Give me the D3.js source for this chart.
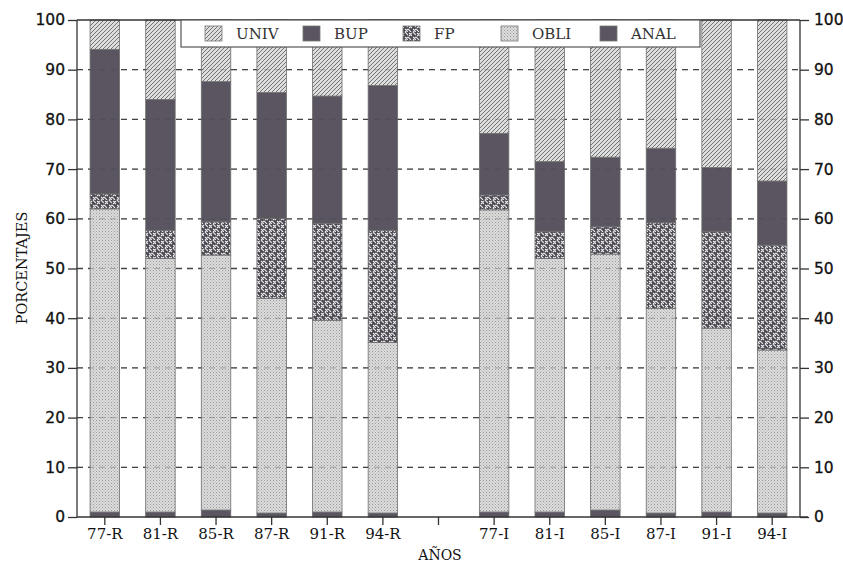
<!DOCTYPE html>
<html><head><meta charset="utf-8">
<script src="https://cdn.jsdelivr.net/npm/d3@7"></script>
<style>body{margin:0;background:#fff}svg{display:block}</style>
</head><body><svg id="c" width="843" height="562"></svg>
<script>
const categories = ["77-R","81-R","85-R","87-R","91-R","94-R","","77-I","81-I","85-I","87-I","91-I","94-I"];
const ANAL = [1,1,1.4,0.8,1,0.8,null,1,1,1.4,0.8,1,0.8];
const OBLI = [61,51,51.3,43.2,38.6,34.3,null,60.8,51,51.5,41.2,37,32.8];
const FP   = [3,5.7,6.7,16.1,19.5,22.6,null,3,5.4,5.5,17.2,19.4,21.1];
const BUP  = [29.1,26.3,28.2,25.3,25.6,29.1,null,12.4,14.1,14,15,12.9,12.9];
const UNIV = [5.9,16,12.4,14.6,15.3,13.2,null,22.8,28.5,27.6,25.8,29.7,32.4];
const seriesNames = ["ANAL","OBLI","FP","BUP","UNIV"];
const legendOrder = ["UNIV","BUP","FP","OBLI","ANAL"];
const yTicks = [0,10,20,30,40,50,60,70,80,90,100];

const svg = d3.select("#c");
const m = {l:77, r:43, t:20, b:45};
const W = 843, H = 562;
const x = d3.scaleBand().domain(categories.map((c,i)=>i)).range([m.l, W-m.r]).paddingInner(0.47).paddingOuter(0.235);
const y = d3.scaleLinear().domain([0,100]).range([H-m.b, m.t]);

// patterns
const defs = svg.append("defs");
const pU = defs.append("pattern").attr("id","pU").attr("patternUnits","userSpaceOnUse").attr("width",4).attr("height",4);
pU.append("rect").attr("width",4).attr("height",4).attr("fill","#dedede");
pU.append("path").attr("d","M-1,1 l2,-2 M0,4 l4,-4 M3,5 l2,-2").attr("stroke","#727272").attr("stroke-width",1);
const pO = defs.append("pattern").attr("id","pO").attr("patternUnits","userSpaceOnUse").attr("width",3).attr("height",3);
pO.append("rect").attr("width",3).attr("height",3).attr("fill","#dcdcdc");
pO.append("rect").attr("x",0).attr("y",0).attr("width",1).attr("height",1).attr("fill","#999");
pO.append("rect").attr("x",1.5).attr("y",1.5).attr("width",1).attr("height",1).attr("fill","#aaa");
const pF = defs.append("pattern").attr("id","pF").attr("patternUnits","userSpaceOnUse").attr("width",8).attr("height",8);
pF.append("rect").attr("width",8).attr("height",8).attr("fill","#4a4650");
pF.append("path").attr("d","M1,1 l3,3 M5,5 l3,3 M4,1 l-3,3 M8,5 l-3,3 M5,0 l3,3 M0,5 l3,3").attr("stroke","#e8e8e8").attr("stroke-width",1.1);
const fills = {ANAL:"#5a5560", OBLI:"url(#pO)", FP:"url(#pF)", BUP:"#5a5560", UNIV:"url(#pU)"};
const data = {ANAL, OBLI, FP, BUP, UNIV};

// gridlines (behind)
svg.append("g").selectAll("line").data(yTicks.filter(t=>t>0&&t<100)).join("line")
  .attr("x1",m.l).attr("x2",W-m.r).attr("y1",d=>y(d)).attr("y2",d=>y(d))
  .attr("stroke","#444").attr("stroke-width",1.3).attr("stroke-dasharray","6,5");

// bars
const rows = categories.map((c,i)=>{const o={i}; seriesNames.forEach(s=>o[s]=data[s][i]||0); return o;});
const stack = d3.stack().keys(seriesNames)(rows.filter(r=>categories[r.i]!==""));
const gb = svg.append("g");
stack.forEach(layer=>{
  gb.append("g").selectAll("rect").data(layer).join("rect")
    .attr("x",d=>x(d.data.i)).attr("width",x.bandwidth())
    .attr("y",d=>y(d[1])).attr("height",d=>y(d[0])-y(d[1]))
    .attr("fill",fills[layer.key]).attr("stroke","#6e6e6e").attr("stroke-width",0.8);
});

// gridlines faint over bars
svg.append("g").selectAll("line").data(yTicks.filter(t=>t>0&&t<100)).join("line")
  .attr("x1",m.l).attr("x2",W-m.r).attr("y1",d=>y(d)).attr("y2",d=>y(d))
  .attr("stroke","#444").attr("stroke-width",1).attr("stroke-dasharray","6,5").attr("opacity",0.35);

// axes
const numFont = "'DejaVu Sans', sans-serif";
const serif = "'DejaVu Serif', serif";
const yl = svg.append("g").attr("transform",`translate(${m.l},0)`)
  .call(d3.axisLeft(y).tickValues(yTicks).tickSize(9).tickPadding(3));
const yr = svg.append("g").attr("transform",`translate(${W-m.r},0)`)
  .call(d3.axisRight(y).tickValues(yTicks).tickSize(9).tickPadding(5));
const xa = svg.append("g").attr("transform",`translate(0,${H-m.b})`)
  .call(d3.axisBottom(x).tickFormat(i=>categories[i]).tickSize(8).tickPadding(3).tickSizeOuter(0));
[yl,yr].forEach(g=>{g.selectAll("text").attr("font-family",numFont).attr("font-size",15.5).attr("fill","#111")
    .attr("stroke","#111").attr("stroke-width",0.3);
  g.selectAll("line,path").attr("stroke","#333").attr("stroke-width",1.3);});
yl.select(".domain").attr("d",`M0,${y(100)}V${y(0)}`);
yr.select(".domain").attr("d",`M0,${y(100)}V${y(0)}`);
xa.selectAll("text").attr("font-family",serif).attr("font-size",15).attr("fill","#111");
xa.selectAll("line,path").attr("stroke","#333").attr("stroke-width",1.3);
xa.select(".domain").attr("d",`M${m.l},0H${W-m.r+8}`);
// top frame
svg.append("line").attr("x1",m.l).attr("x2",W-m.r).attr("y1",y(100)).attr("y2",y(100)).attr("stroke","#333").attr("stroke-width",1.3);

// axis titles
svg.append("text").attr("transform",`translate(27,${268}) rotate(-90)`).attr("text-anchor","middle")
  .attr("font-family",serif).attr("font-size",14.5).attr("fill","#111").text("PORCENTAJES");
svg.append("text").attr("x",440).attr("y",560).attr("text-anchor","middle")
  .attr("font-family",serif).attr("font-size",14).attr("fill","#111").text("AÑOS");

// legend
const lg = svg.append("g");
lg.append("rect").attr("x",181).attr("y",20).attr("width",519).attr("height",27).attr("fill","#fff")
  .attr("stroke","#555").attr("stroke-width",1.2);
const lx = [205,303,403,501,600];
legendOrder.forEach((k,j)=>{
  lg.append("rect").attr("x",lx[j]).attr("y",26).attr("width",17).attr("height",15)
    .attr("fill",fills[k]).attr("stroke","#777").attr("stroke-width",0.8);
  lg.append("text").attr("x",lx[j]+31).attr("y",39).attr("font-family",serif).attr("font-size",15)
    .attr("fill","#333").text(k);
});
</script></body></html>
